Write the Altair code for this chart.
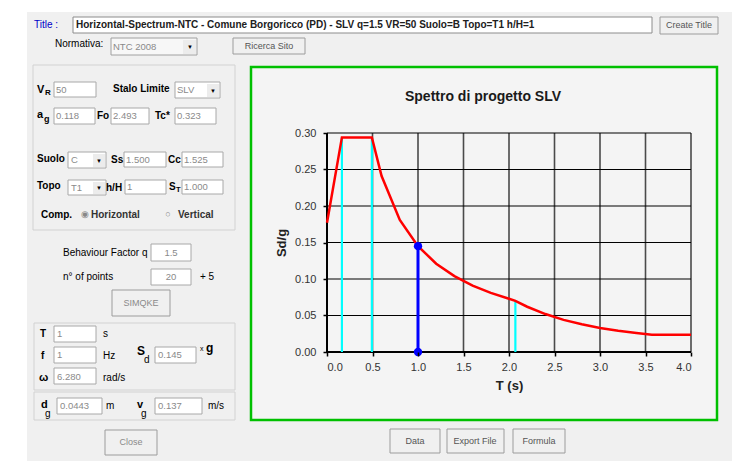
import altair as alt
import pandas as pd

# ---------------- chart data ----------------
T_curve = [0.0, 0.164, 0.493, 0.6, 0.8, 1.0, 1.2, 1.4, 1.6, 1.8, 2.0, 2.07,
           2.2, 2.4, 2.6, 2.8, 3.0, 3.2, 3.4, 3.57, 4.0]
Sd_curve = [0.177, 0.294, 0.294, 0.241, 0.181, 0.145, 0.121, 0.104, 0.091,
            0.081, 0.073, 0.070, 0.062, 0.052, 0.044, 0.038, 0.033, 0.029,
            0.026, 0.0236, 0.0236]
corner_T = [0.164, 0.493, 2.07]
corner_Sd = [0.294, 0.294, 0.070]
sel_T = [1.0]
sel_Sd = [0.145]
x_ticks = [0.0, 0.5, 1.0, 1.5, 2.0, 2.5, 3.0, 3.5, 4.0]
y_ticks = [0.0, 0.05, 0.10, 0.15, 0.20, 0.25, 0.30]
chart_title = "Spettro di progetto SLV"

# ---------------- layout ----------------
X0, Y0, W, H = 327, 133, 364, 219
XMAX, YMAX = 4.0, 0.30
FONT = "Liberation Sans"


def fx(px):
    return (px - X0) / W * XMAX


def fy(py):
    return (Y0 + H - py) / H * YMAX


xs = alt.Scale(domain=[0, XMAX], nice=False, zero=False)
ys = alt.Scale(domain=[0, YMAX], nice=False, zero=False)

axx = alt.Axis(values=x_ticks, format=".1f", title="T (s)", grid=False,
               zindex=1, domain=False, tickColor="#000",
               tickSize=4, tickWidth=1.5, labelFont=FONT, labelFontSize=11,
               labelColor="#333", labelPadding=5, titleFont=FONT,
               titleFontSize=13, titleFontWeight="bold", titleColor="#222",
               titlePadding=7)
axy = alt.Axis(values=y_ticks, format=".2f", title="Sd/g", grid=False,
               zindex=1, domain=False, tickColor="#000",
               tickSize=4, tickWidth=1.5, labelFont=FONT, labelFontSize=11,
               labelColor="#333", labelPadding=7, titleFont=FONT,
               titleFontSize=13, titleFontWeight="bold", titleColor="#222",
               titlePadding=6)

# ---------------- dialog decoration (pixel boxes) ----------------
BOX = ("#ffffff", "#a8a8a8", 1)
BTN = ("#f0f0f0", "#9c9c9c", 1)
PANEL = ("#f0f0f0", "#d2d2d2", 1)
rect_specs = [
    (27, 12, 732, 461, "#f0f0f0", "#f0f0f0", 0),
    (73, 17, 652, 33, "#ffffff", "#8c8c8c", 1),
    (660, 17, 718, 34) + BTN,
    (111, 38, 197, 55, "#f7f7f7", "#a0a0a0", 1),
    (183, 40, 196, 54, "#ececec", "#ececec", 0),
    (233, 38, 305, 54) + BTN,
    (33, 65, 235, 230) + PANEL,
    (34, 323, 235, 390) + PANEL,
    (34, 392, 235, 420) + PANEL,
    (251, 67, 717, 420, "#f4f4f4", "#00c000", 2.5),
    (54, 82, 96, 97) + BOX,
    (175, 82, 220, 98) + BOX,
    (207, 84, 219, 97, "#ececec", "#ececec", 0),
    (54, 108, 95, 124) + BOX,
    (111, 108, 149, 124) + BOX,
    (175, 108, 216, 124) + BOX,
    (68, 152, 106, 168) + BOX,
    (93, 154, 105, 167, "#ececec", "#ececec", 0),
    (124, 152, 166, 167) + BOX,
    (182, 152, 223, 167) + BOX,
    (68, 180, 106, 195) + BOX,
    (93, 182, 105, 194, "#ececec", "#ececec", 0),
    (125, 180, 166, 194) + BOX,
    (182, 180, 223, 194) + BOX,
    (151, 244, 191, 261) + BOX,
    (151, 269, 191, 285) + BOX,
    (112, 290, 170, 316) + BTN,
    (54, 326, 96, 342) + BOX,
    (54, 347, 96, 363) + BOX,
    (155, 347, 196, 363) + BOX,
    (54, 368, 96, 384) + BOX,
    (57, 398, 102, 414) + BOX,
    (155, 398, 202, 414) + BOX,
    (105, 430, 157, 455) + BTN,
    (390, 429, 440, 453) + BTN,
    (447, 429, 504, 453) + BTN,
    (513, 429, 565, 453) + BTN,
]
rects = pd.DataFrame(
    [dict(x=fx(a), x2=fx(c), y=fy(b), y2=fy(d), fill=f, stroke=s, sw=w)
     for a, b, c, d, f, s, w in rect_specs])

# text: (x, y, text, size, color, weight, align)
K, G, DG = "#000000", "#8a8a8a", "#555555"
text_specs = [
    (34, 25, "Title :", 10, "#0000c8", "normal", "left"),
    (76, 25, "Horizontal-Spectrum-NTC - Comune Borgoricco (PD) - SLV q=1.5 VR=50 Suolo=B Topo=T1 h/H=1",
     10, "#202020", "bold", "left"),
    (689, 25, "Create Title", 9, DG, "normal", "center"),
    (55, 44, "Normativa:", 10, K, "normal", "left"),
    (113, 47, "NTC 2008", 9.5, G, "normal", "left"),
    (190, 47, "▼", 6, K, "normal", "center"),
    (269, 46, "Ricerca Sito", 9, DG, "normal", "center"),
    (37, 90, "V", 11, K, "bold", "left"),
    (45, 93, "R", 8, K, "bold", "left"),
    (56, 90, "50", 9.5, G, "normal", "left"),
    (113, 89, "Stalo Limite", 10, K, "bold", "left"),
    (177, 90, "SLV", 9.5, G, "normal", "left"),
    (213, 91, "▼", 6, K, "normal", "center"),
    (37, 115, "a", 11, K, "bold", "left"),
    (44, 119, "g", 9, K, "bold", "left"),
    (56, 116, "0.118", 9.5, G, "normal", "left"),
    (97, 116, "Fo", 10, K, "bold", "left"),
    (113, 116, "2.493", 9.5, G, "normal", "left"),
    (155, 116, "Tc*", 10, K, "bold", "left"),
    (177, 116, "0.323", 9.5, G, "normal", "left"),
    (37, 159, "Suolo", 10, K, "bold", "left"),
    (71, 160, "C", 9.5, G, "normal", "left"),
    (99, 161, "▼", 6, K, "normal", "center"),
    (111, 160, "Ss", 10, K, "bold", "left"),
    (126, 160, "1.500", 9.5, G, "normal", "left"),
    (168, 160, "Cc", 10, K, "bold", "left"),
    (184, 160, "1.525", 9.5, G, "normal", "left"),
    (37, 186, "Topo", 10, K, "bold", "left"),
    (71, 188, "T1", 9.5, G, "normal", "left"),
    (99, 188, "▼", 6, K, "normal", "center"),
    (106, 188, "h/H", 10, K, "bold", "left"),
    (127, 187, "1", 9.5, G, "normal", "left"),
    (169, 187, "S", 10, K, "bold", "left"),
    (176, 190, "T", 7.5, K, "bold", "left"),
    (184, 187, "1.000", 9.5, G, "normal", "left"),
    (41, 215, "Comp.", 10, K, "bold", "left"),
    (85, 214, "◉", 9, "#888888", "normal", "center"),
    (91, 215, "Horizontal", 10, "#333333", "bold", "left"),
    (168, 214, "○", 9, "#888888", "normal", "center"),
    (178, 215, "Vertical", 10, "#333333", "bold", "left"),
    (63, 253, "Behaviour Factor q", 10, K, "normal", "left"),
    (171, 253, "1.5", 9.5, G, "normal", "center"),
    (63, 277, "n° of points", 10, K, "normal", "left"),
    (171, 277, "20", 9.5, G, "normal", "center"),
    (200, 277, "+ 5", 10, K, "normal", "left"),
    (141, 303, "SIMQKE", 9, G, "normal", "center"),
    (40, 334, "T", 10, K, "bold", "left"),
    (57, 334, "1", 9.5, G, "normal", "left"),
    (103, 334, "s", 10, K, "normal", "left"),
    (41, 356, "f", 10, K, "bold", "left"),
    (57, 355, "1", 9.5, G, "normal", "left"),
    (103, 356, "Hz", 10, K, "normal", "left"),
    (137, 351, "S", 12, K, "bold", "left"),
    (144, 360, "d", 10, K, "normal", "left"),
    (158, 355, "0.145", 9.5, G, "normal", "left"),
    (200, 349, "x", 7, K, "normal", "left"),
    (206, 348, "g", 12, K, "bold", "left"),
    (39, 378, "ω", 11, K, "bold", "left"),
    (57, 377, "6.280", 9.5, G, "normal", "left"),
    (103, 378, "rad/s", 10, K, "normal", "left"),
    (41, 405, "d", 11, K, "bold", "left"),
    (45, 414, "g", 10, K, "normal", "left"),
    (60, 406, "0.0443", 9.5, G, "normal", "left"),
    (106, 406, "m", 10, K, "normal", "left"),
    (137, 405, "v", 11, K, "bold", "left"),
    (141, 414, "g", 10, K, "normal", "left"),
    (158, 406, "0.137", 9.5, G, "normal", "left"),
    (208, 406, "m/s", 10, K, "normal", "left"),
    (131, 442, "Close", 9, G, "normal", "center"),
    (415, 441, "Data", 9, DG, "normal", "center"),
    (475, 441, "Export File", 9, DG, "normal", "center"),
    (539, 441, "Formula", 9, DG, "normal", "center"),
]
texts = pd.DataFrame(
    [dict(x=fx(a), y=fy(b), text=t, size=s, color=c, weight=w, align=al)
     for a, b, t, s, c, w, al in text_specs])

# ---------------- layers ----------------
ux = lambda f: alt.X(f, type="quantitative", scale=xs, axis=axx)
uy = lambda f: alt.Y(f, type="quantitative", scale=ys, axis=axy)

rect_layer = alt.Chart(rects).mark_rect().encode(
    x=ux("x"), x2="x2", y=uy("y"), y2="y2",
    fill=alt.Fill("fill:N", scale=None),
    stroke=alt.Stroke("stroke:N", scale=None),
    strokeWidth=alt.StrokeWidth("sw:Q", scale=None),
)

text_layers = []
for (w, al), grp in texts.groupby(["weight", "align"]):
    text_layers.append(
        alt.Chart(grp).mark_text(fontWeight=w, align=al, baseline="middle",
                                 font=FONT).encode(
            x=ux("x"), y=uy("y"), text="text:N",
            size=alt.Size("size:Q", scale=None),
            color=alt.Color("color:N", scale=None),
        )
    )

gx = pd.DataFrame({"T": x_ticks[1:]})
gy = pd.DataFrame({"Sd": y_ticks[1:]})
grid_x = alt.Chart(gx).mark_rule(color="#4a4a4a", strokeWidth=1.6).encode(
    x=ux("T"), y=alt.value(0), y2=alt.value(H))
grid_y = alt.Chart(gy).mark_rule(color="#000000", strokeWidth=1.2).encode(
    y=uy("Sd"), x=alt.value(0), x2=alt.value(W))
# axis lines (drawn as rules so the markers can sit above them)
dom_x = alt.Chart(pd.DataFrame({"Sd": [y_ticks[0]]})).mark_rule(
    color="#000000", strokeWidth=2).encode(
    y=uy("Sd"), x=alt.value(-1), x2=alt.value(W))
dom_y = alt.Chart(pd.DataFrame({"T": [x_ticks[0]]})).mark_rule(
    color="#000000", strokeWidth=2).encode(
    x=ux("T"), y=alt.value(0), y2=alt.value(H + 1))

corners = pd.DataFrame({"T": corner_T, "Sd": corner_Sd, "zero": [0.0] * 3})
cyan = alt.Chart(corners).mark_rule(color="#00ffff", strokeWidth=2.2).encode(
    x=ux("T"), y=uy("Sd"), y2="zero")

curve = pd.DataFrame({"T": T_curve, "Sd": Sd_curve})
red = alt.Chart(curve).mark_line(color="#ff0000", strokeWidth=2.5).encode(
    x=ux("T"), y=uy("Sd"))

sel = pd.DataFrame({"T": sel_T, "Sd": sel_Sd, "zero": [0.0]})
blue_rule = alt.Chart(sel).mark_rule(color="#0000ff", strokeWidth=3).encode(
    x=ux("T"), y=uy("Sd"), y2="zero")
pts = pd.DataFrame({"T": sel_T * 2, "Sd": sel_Sd + [0.0]})
blue_pts = alt.Chart(pts).mark_circle(color="#0000ff", size=70, opacity=1).encode(
    x=ux("T"), y=uy("Sd"))

title_df = pd.DataFrame({"x": [fx(483)], "y": [fy(97)], "text": [chart_title]})
title_layer = alt.Chart(title_df).mark_text(
    font=FONT, fontSize=14, fontWeight="bold", color="#1a1a1a",
    align="center", baseline="middle").encode(x=ux("x"), y=uy("y"), text="text:N")

chart = alt.layer(
    rect_layer, *text_layers, grid_x, grid_y, dom_x, dom_y, cyan, red,
    blue_rule, blue_pts, title_layer,
).properties(
    width=W, height=H,
    autosize=alt.AutoSizeParams(type="none"),
    padding={"left": X0, "top": Y0, "right": 747 - X0 - W, "bottom": 472 - Y0 - H},
    background="#ffffff",
).configure_view(stroke=None)

chart.save("out.html", embed_options={"renderer": "svg", "actions": False})
